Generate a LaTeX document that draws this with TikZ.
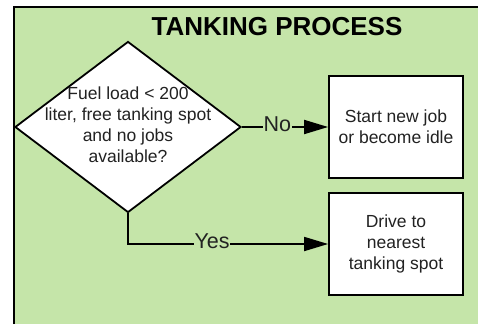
\documentclass[tikz,border=0pt]{standalone}
\usepackage{fontspec}
\setmainfont{Liberation Sans}
\usetikzlibrary{shapes.geometric,arrows.meta}
\definecolor{bggreen}{HTML}{C5E5A9}
\definecolor{txt}{HTML}{222222}
\begin{document}
\begin{tikzpicture}[x=1pt,y=-1pt,
  boxtext/.style={font=\fontsize{17.5}{21}\selectfont, align=center, text=txt},
  procbox/.style={draw, line width=1.8pt, fill=white, minimum width=134pt, minimum height=102pt, inner sep=0pt, boxtext},
  lbl/.style={font=\fontsize{21.5}{24}\selectfont, fill=bggreen, inner sep=0.6pt, text=txt},
  conn/.style={line width=1.8pt, -{Triangle[length=24pt,width=14pt]}}]
\useasboundingbox (0,0) rectangle (478,324);
\fill[bggreen] (14,7) rectangle (478,324);
\coordinate (bl) at (14,324);
\coordinate (tl) at (14,7);
\coordinate (tr) at (478,7);
\draw[line width=2pt] (bl) -- (tl) -- (tr);
\node[font=\bfseries\fontsize{26}{30}\selectfont] (title) at (277,27) {TANKING PROCESS};
\node[diamond, draw, line width=1.8pt, fill=white, minimum width=226pt, minimum height=171pt, inner sep=0pt] (dec) at (128,127) {};
\node[boxtext] (dectext) at (128,124.5) {Fuel load < 200\\liter, free tanking spot\\and no jobs\\available?};
\node[procbox] (job) at (396,127) {Start new job\\or become idle};
\node[procbox] (drive) at (396,244) {Drive to\\nearest\\tanking spot};
\draw[conn] (dec.east) -- (job.west) node[lbl, pos=0.41, yshift=3pt] {No};
\draw[conn] (dec.south) |- (drive.west) node[lbl, pos=0.71, yshift=3pt] {Yes};
\end{tikzpicture}
\end{document}
